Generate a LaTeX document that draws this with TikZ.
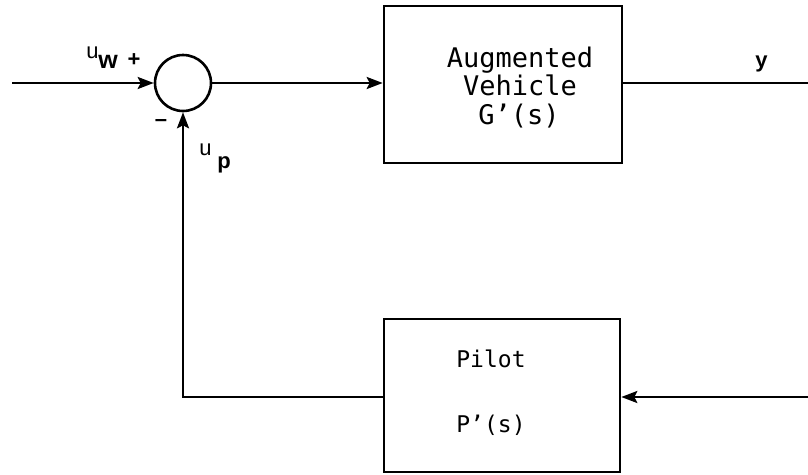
\documentclass[tikz,border=0pt]{standalone}
\usepackage{fontspec}
\setmainfont{Liberation Sans}
\newfontfamily\boxfont{DejaVu Sans Mono}
\usetikzlibrary{arrows.meta}
\begin{document}
\begin{tikzpicture}[x=1pt,y=-1pt,
  line width=2.6pt,
  blk/.style={draw,rectangle,inner sep=0pt},
  gtxt/.style={font=\boxfont\fontsize{27}{30}\selectfont,inner sep=0pt,anchor=base},
  ptxt/.style={font=\boxfont\fontsize{23}{26}\selectfont,inner sep=0pt,anchor=base},
  sumc/.style={draw,circle,minimum size=56pt,inner sep=0pt},
  arr/.style={-{Stealth[length=16pt,width=12pt,inset=3pt]}},
  lbl/.style={font=\fontsize{22}{24}\selectfont,inner sep=0pt,anchor=base west}
]
\useasboundingbox (0,0) rectangle (808,474);
\node[sumc] (sum) at (183,83) {};
\node[blk,minimum width=238pt,minimum height=157pt] (G) at (503,84.5) {};
\node[gtxt] (g1) at (520,67) {Augmented};
\node[gtxt] (g2) at (520,95) {Vehicle};
\node[gtxt] (g3) at (519,124) {G’(s)};
\node[blk,minimum width=236pt,minimum height=153pt] (P) at (502,395.5) {};
\node[ptxt] (p1) at (491,367) {Pilot};
\node[ptxt] (p2) at (491,432) {P’(s)};
\coordinate (in) at (12,83);
\coordinate (out) at (808,83);
\coordinate (fb) at (808,397);
\coordinate (corner) at (183,397);
\draw[arr] (in) -- (sum.west);
\draw[arr] (sum.east) -- (G.west |- sum.east);
\draw (G.east |- out) -- (out);
\draw[arr] (fb) -- (P.east |- fb);
\draw[arr] (P.west |- corner) -- (corner) -- (sum.south);
\node[lbl] (u1) at (85,58) {u};
\node[lbl] (w1) at (97,68) {\fontsize{25}{26}\selectfont\textbf{w}};
\node[lbl,anchor=center] (plus) at (134,60) {\textbf{+}};
\node[lbl,anchor=center] (minus) at (161,123) {\textbf{–}};
\node[lbl] (u2) at (198,155) {u};
\node[lbl] (p3) at (216,168) {\textbf{p}};
\node[lbl] (ylab) at (754,67) {\textbf{y}};
\end{tikzpicture}
\end{document}
